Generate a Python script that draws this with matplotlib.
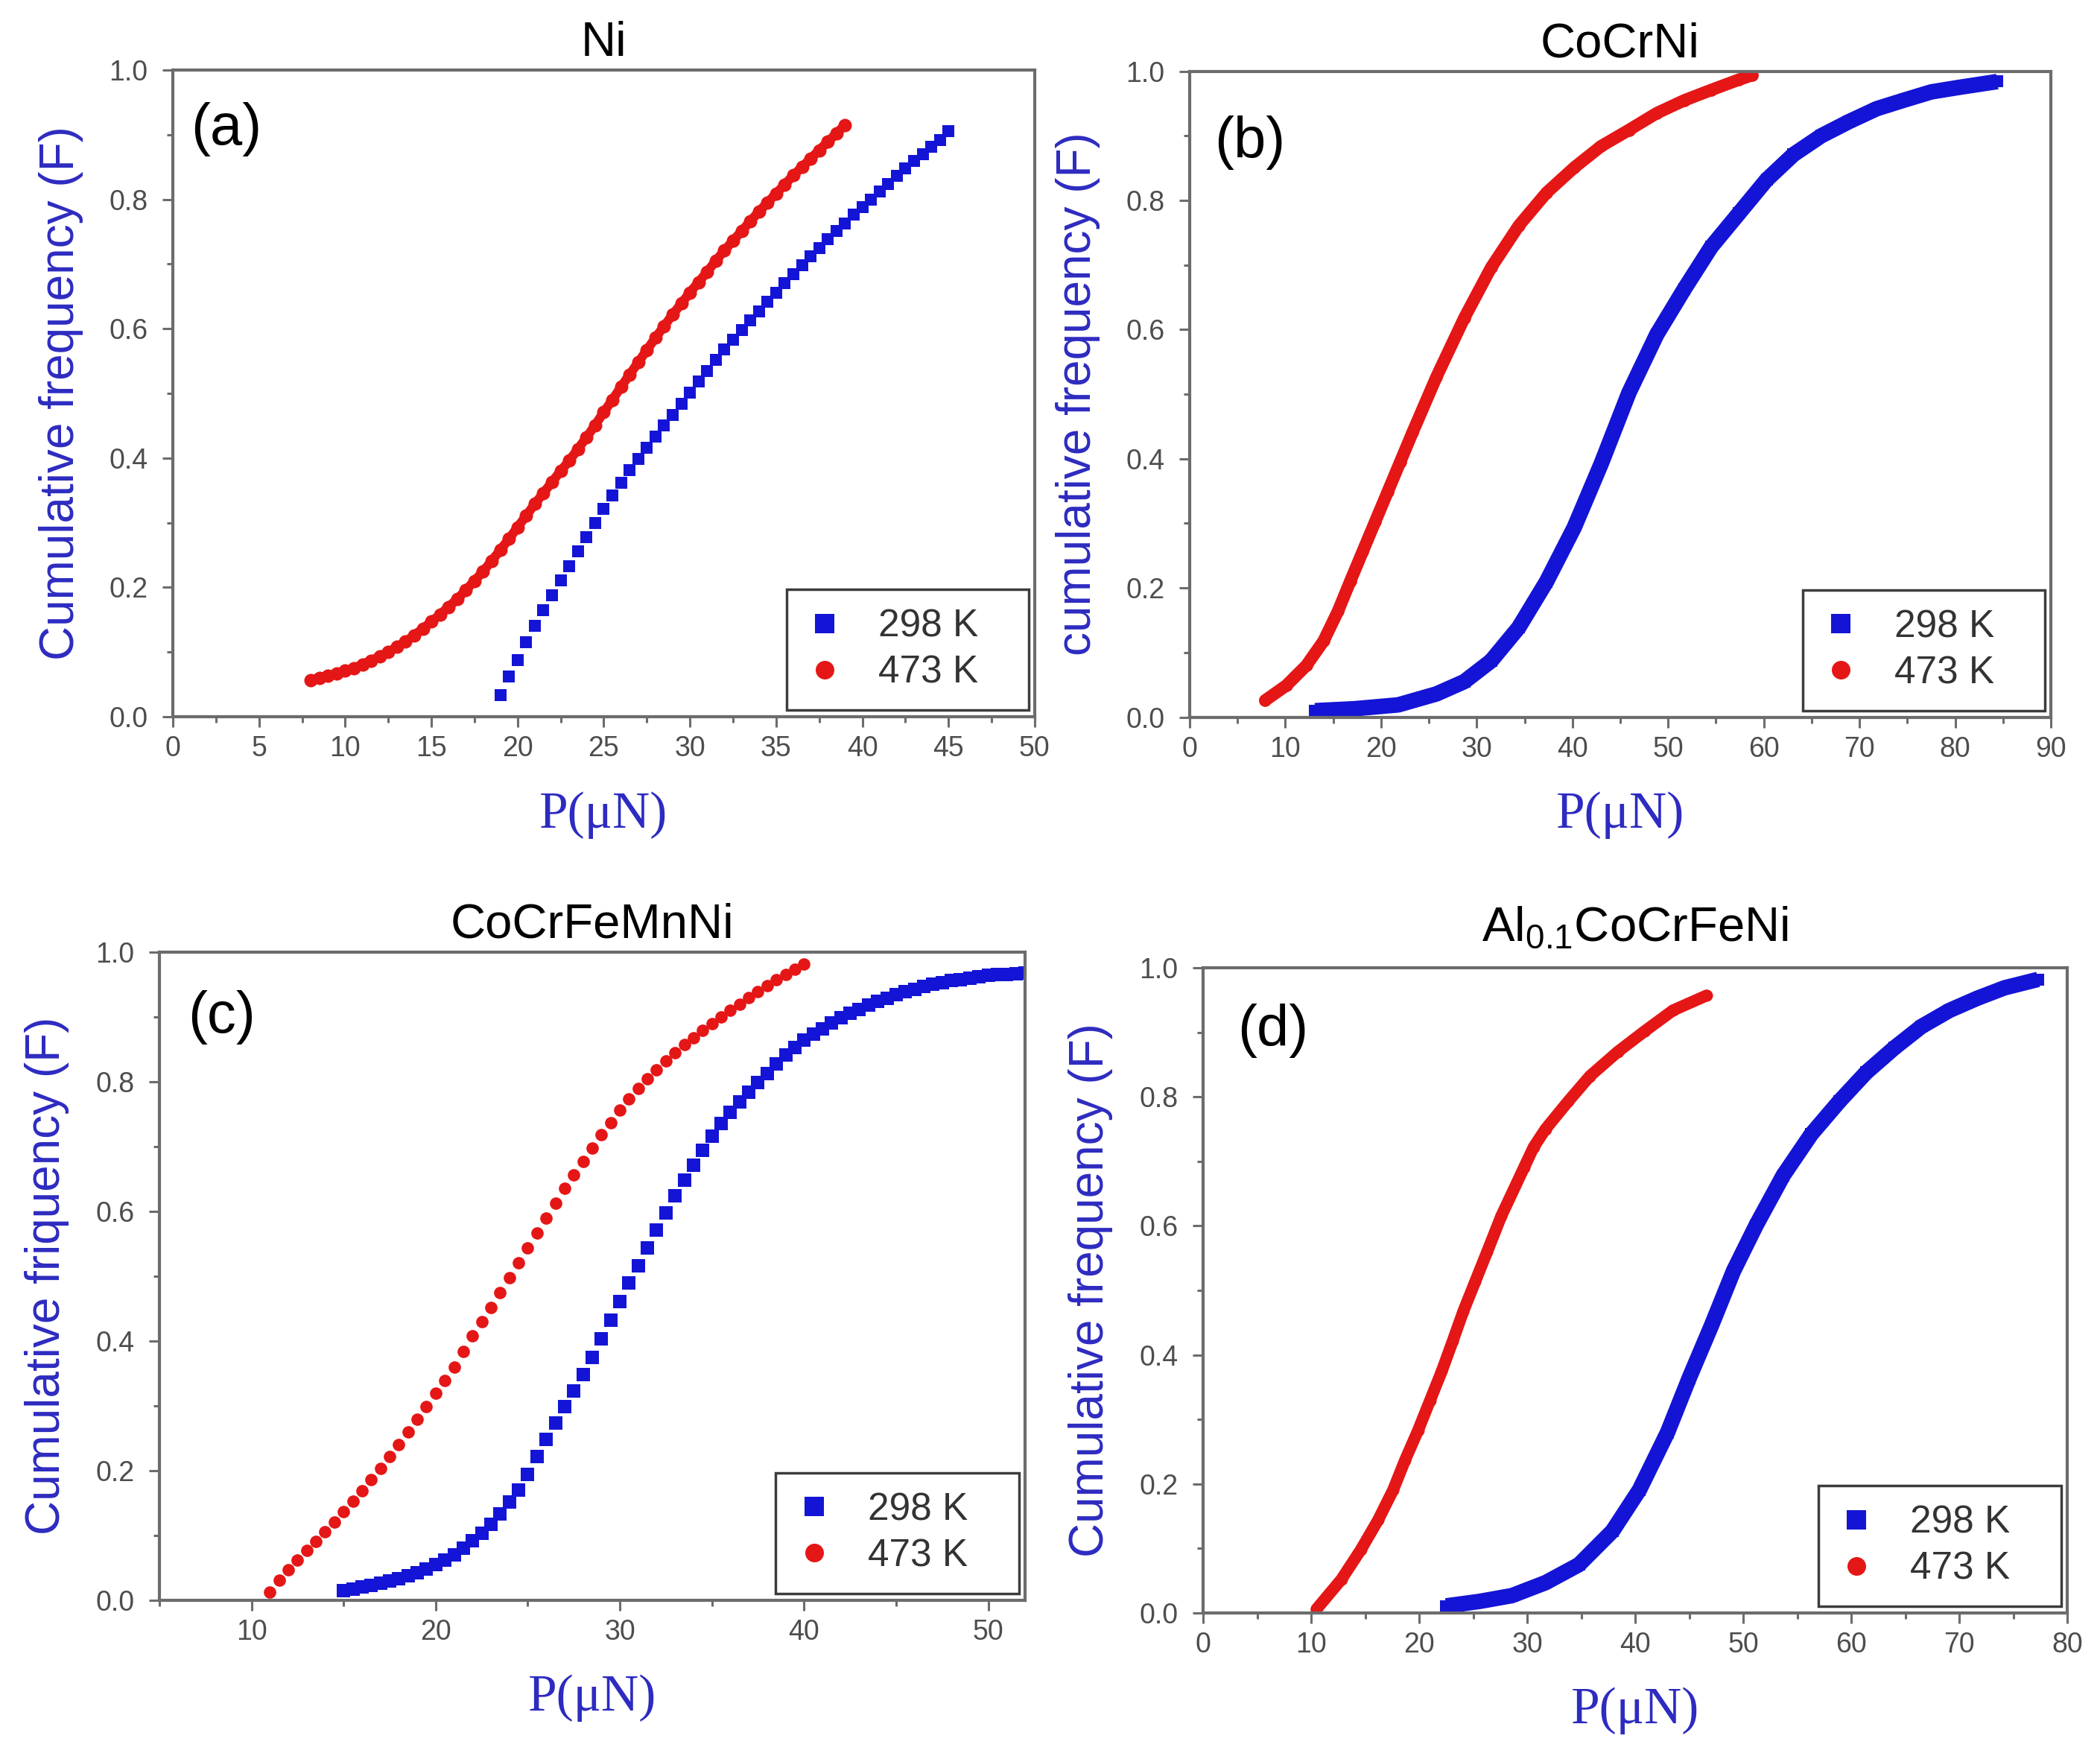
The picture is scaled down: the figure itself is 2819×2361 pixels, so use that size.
import matplotlib
matplotlib.use('Agg')
import matplotlib.pyplot as plt
from matplotlib.lines import Line2D
from matplotlib.ticker import MultipleLocator, FormatStrFormatter

plt.rcParams['font.family'] = ['Liberation Sans', 'DejaVu Sans']

# ---------------- data ----------------
# (a) Ni
a_298_x = [19.0, 19.5, 20.0, 20.5, 21.0, 21.5, 22.0, 22.5, 23.0, 23.5,
           24.0, 24.5, 25.0, 25.5, 26.0, 26.5, 27.0, 27.5, 28.0, 28.5,
           29.0, 29.5, 30.0, 30.5, 31.0, 31.5, 32.0, 32.5, 33.0, 33.5,
           34.0, 34.5, 35.0, 35.5, 36.0, 36.5, 37.0, 37.5, 38.0, 38.5,
           39.0, 39.5, 40.0, 40.5, 41.0, 41.5, 42.0, 42.5, 43.0, 43.5,
           44.0, 44.5, 45.0]
a_298_y = [0.034, 0.062, 0.088, 0.115, 0.141, 0.165, 0.188, 0.211, 0.233, 0.256,
           0.278, 0.300, 0.322, 0.342, 0.362, 0.381, 0.399, 0.416, 0.433, 0.450,
           0.467, 0.484, 0.501, 0.518, 0.535, 0.552, 0.568, 0.583, 0.598, 0.613,
           0.627, 0.642, 0.656, 0.670, 0.684, 0.698, 0.712, 0.725, 0.738, 0.751,
           0.763, 0.776, 0.788, 0.800, 0.812, 0.824, 0.836, 0.848, 0.859, 0.870,
           0.881, 0.892, 0.905]
a_473_x = [8.0, 8.5, 9.0, 9.5, 10.0, 10.5, 11.0, 11.5, 12.0, 12.5,
           13.0, 13.5, 14.0, 14.5, 15.0, 15.5, 16.0, 16.5, 17.0, 17.5,
           18.0, 18.5, 19.0, 19.5, 20.0, 20.5, 21.0, 21.5, 22.0, 22.5,
           23.0, 23.5, 24.0, 24.5, 25.0, 25.5, 26.0, 26.5, 27.0, 27.5,
           28.0, 28.5, 29.0, 29.5, 30.0, 30.5, 31.0, 31.5, 32.0, 32.5,
           33.0, 33.5, 34.0, 34.5, 35.0, 35.5, 36.0, 36.5, 37.0, 37.5,
           38.0, 38.5, 39.0]
a_473_y = [0.057, 0.060, 0.063, 0.067, 0.071, 0.075, 0.081, 0.087, 0.093, 0.100,
           0.108, 0.116, 0.126, 0.136, 0.147, 0.158, 0.170, 0.182, 0.196, 0.210,
           0.225, 0.241, 0.258, 0.275, 0.293, 0.311, 0.329, 0.346, 0.363, 0.380,
           0.396, 0.414, 0.432, 0.451, 0.471, 0.490, 0.510, 0.529, 0.548, 0.567,
           0.586, 0.604, 0.622, 0.639, 0.656, 0.672, 0.688, 0.705, 0.721, 0.736,
           0.751, 0.766, 0.781, 0.795, 0.809, 0.823, 0.837, 0.850, 0.863, 0.876,
           0.889, 0.902, 0.915]

# (b) CoCrNi
b_298_x = [13.1, 17.2, 21.8, 25.8, 28.7, 31.5, 34.4, 37.3, 40.2, 43.0, 45.9, 48.8,
           51.7, 54.5, 57.4, 60.3, 63.1, 66.0, 68.9, 71.8, 74.6, 77.5, 80.4, 84.4]
b_298_y = [0.010, 0.013, 0.019, 0.036, 0.055, 0.087, 0.139, 0.210, 0.294, 0.392, 0.502, 0.592,
           0.663, 0.728, 0.780, 0.832, 0.871, 0.900, 0.922, 0.942, 0.955, 0.968, 0.975, 0.984]
b_473_x = [7.9, 10.1, 12.2, 14.0, 15.5, 16.8, 18.1, 19.4, 20.7, 22.0, 23.3, 25.8,
           28.7, 31.5, 34.4, 37.3, 40.2, 43.0, 45.9, 48.8, 51.7, 54.5, 57.4, 58.8]
b_473_y = [0.026, 0.049, 0.080, 0.118, 0.164, 0.211, 0.257, 0.303, 0.349, 0.395, 0.441, 0.527,
           0.618, 0.696, 0.761, 0.812, 0.851, 0.884, 0.909, 0.935, 0.955, 0.971, 0.987, 0.994]

# (c) CoCrFeMnNi
c_298_x = [15.0, 15.5, 16.0, 16.5, 17.0, 17.5, 18.0, 18.5, 19.0, 19.5,
           20.0, 20.5, 21.0, 21.5, 22.0, 22.5, 23.0, 23.5, 24.0, 24.5,
           25.0, 25.5, 26.0, 26.5, 27.0, 27.5, 28.0, 28.5, 29.0, 29.5,
           30.0, 30.5, 31.0, 31.5, 32.0, 32.5, 33.0, 33.5, 34.0, 34.5,
           35.0, 35.5, 36.0, 36.5, 37.0, 37.5, 38.0, 38.5, 39.0, 39.5,
           40.0, 40.5, 41.0, 41.5, 42.0, 42.5, 43.0, 43.5, 44.0, 44.5,
           45.0, 45.5, 46.0, 46.5, 47.0, 47.5, 48.0, 48.5, 49.0, 49.5,
           50.0, 50.5, 51.0, 51.5, 52.0]
c_298_y = [0.015, 0.017, 0.020, 0.022, 0.026, 0.029, 0.033, 0.037, 0.042, 0.048,
           0.055, 0.062, 0.070, 0.080, 0.091, 0.103, 0.117, 0.133, 0.151, 0.170,
           0.194, 0.221, 0.248, 0.273, 0.298, 0.323, 0.348, 0.374, 0.403, 0.432,
           0.461, 0.489, 0.516, 0.544, 0.571, 0.597, 0.624, 0.648, 0.671, 0.694,
           0.716, 0.736, 0.753, 0.769, 0.784, 0.799, 0.813, 0.828, 0.841, 0.853,
           0.864, 0.873, 0.882, 0.891, 0.899, 0.906, 0.912, 0.918, 0.924, 0.929,
           0.934, 0.939, 0.943, 0.947, 0.950, 0.953, 0.956, 0.958, 0.960, 0.962,
           0.964, 0.965, 0.966, 0.967, 0.968]
c_473_x = [11.0, 11.5, 12.0, 12.5, 13.0, 13.5, 14.0, 14.5, 15.0, 15.5,
           16.0, 16.5, 17.0, 17.5, 18.0, 18.5, 19.0, 19.5, 20.0, 20.5,
           21.0, 21.5, 22.0, 22.5, 23.0, 23.5, 24.0, 24.5, 25.0, 25.5,
           26.0, 26.5, 27.0, 27.5, 28.0, 28.5, 29.0, 29.5, 30.0, 30.5,
           31.0, 31.5, 32.0, 32.5, 33.0, 33.5, 34.0, 34.5, 35.0, 35.5,
           36.0, 36.5, 37.0, 37.5, 38.0, 38.5, 39.0, 39.5, 40.0]
c_473_y = [0.012, 0.030, 0.047, 0.062, 0.076, 0.090, 0.105, 0.120, 0.136, 0.152,
           0.169, 0.186, 0.203, 0.221, 0.240, 0.259, 0.279, 0.299, 0.319, 0.339,
           0.360, 0.384, 0.408, 0.430, 0.452, 0.474, 0.497, 0.520, 0.543, 0.566,
           0.590, 0.613, 0.635, 0.656, 0.677, 0.698, 0.718, 0.737, 0.756, 0.773,
           0.789, 0.804, 0.818, 0.832, 0.845, 0.857, 0.868, 0.879, 0.890, 0.900,
           0.910, 0.920, 0.930, 0.939, 0.948, 0.957, 0.965, 0.973, 0.982]

# (d) Al0.1CoCrFeNi
d_298_x = [22.5, 25.6, 28.6, 31.7, 34.8, 37.9, 40.4, 43.0, 45.0, 47.1, 49.1,
           51.2, 53.7, 56.3, 58.9, 61.4, 64.0, 66.5, 69.1, 71.7, 74.2, 77.3]
d_298_y = [0.011, 0.018, 0.027, 0.047, 0.075, 0.127, 0.191, 0.280, 0.364, 0.447, 0.530,
           0.601, 0.678, 0.742, 0.793, 0.838, 0.876, 0.909, 0.934, 0.953, 0.969, 0.982]
d_473_x = [10.5, 12.8, 14.6, 16.2, 17.6, 18.7, 19.9, 21.0, 22.1, 23.1, 24.1, 25.2,
           26.3, 27.6, 29.7, 30.6, 31.7, 33.8, 35.8, 38.4, 40.9, 43.5, 46.6]
d_473_y = [0.006, 0.052, 0.098, 0.144, 0.191, 0.237, 0.283, 0.329, 0.375, 0.421, 0.468, 0.514,
           0.560, 0.615, 0.690, 0.722, 0.750, 0.793, 0.832, 0.870, 0.902, 0.934, 0.957]

titles = ['Ni', 'CoCrNi', 'CoCrFeMnNi', r'Al$_{\mathregular{0.1}}$CoCrFeNi']
letters = ['(a)', '(b)', '(c)', '(d)']
ylabels = ['Cumulative frequency (F)', 'cumulative frequency (F)',
           'Cumulative friquency (F)', 'Cumulative frequency (F)']
legend_labels = ['298 K', '473 K']

BLUE = '#1414d6'
RED = '#e51616'
LABEL_BLUE = '#2d2bc0'
FRAME = '#6c6c6c'
TICK_TXT = '#4d4d4d'

fig = plt.figure(figsize=(28.19, 23.61), dpi=100)

rects = [[0.0823, 0.5925, 0.4104, 0.3677],
         [0.5665, 0.5923, 0.4101, 0.3672],
         [0.0759, 0.0904, 0.4122, 0.3683],
         [0.5729, 0.0830, 0.4115, 0.3668]]
xlims = [(0, 50), (0, 90), (5, 52), (0, 80)]
xmajor = [5, 10, 10, 10]
xminor = [2.5, 5, 5, 5]
title_pads = [14, 14, 14, 26]
letter_pos = [(0.021, 0.908), (0.029, 0.889), (0.033, 0.899), (0.040, 0.903)]

axes = [fig.add_axes(r) for r in rects]
ax_a, ax_b, ax_c, ax_d = axes

# (a) distinct markers, red chain slightly joined
ax_a.plot(a_298_x, a_298_y, ls='none', marker='s', ms=12, mew=0, color=BLUE)
ax_a.plot(a_473_x, a_473_y, ls='-', lw=9, marker='o', ms=13, mew=0, color=RED,
          solid_capstyle='round')

# (b) dense data -> continuous thick bands
ax_b.plot(b_298_x, b_298_y, ls='-', lw=15, marker='s', ms=12, mew=0, color=BLUE,
          solid_joinstyle='round', solid_capstyle='butt')
ax_b.plot(b_473_x, b_473_y, ls='-', lw=12, marker='o', ms=12, mew=0, color=RED,
          solid_joinstyle='round', solid_capstyle='round')

# (c) distinct markers
ax_c.plot(c_298_x, c_298_y, ls='none', marker='s', ms=13, mew=0, color=BLUE)
ax_c.plot(c_473_x, c_473_y, ls='none', marker='o', ms=12, mew=0, color=RED)

# (d) dense data -> continuous thick bands
ax_d.plot(d_298_x, d_298_y, ls='-', lw=15, marker='s', ms=12, mew=0, color=BLUE,
          solid_joinstyle='round', solid_capstyle='butt')
ax_d.plot(d_473_x, d_473_y, ls='-', lw=11.5, marker='o', ms=11.5, mew=0, color=RED,
          solid_joinstyle='round', solid_capstyle='round')

for i, ax in enumerate(axes):
    ax.set_xlim(*xlims[i])
    ax.set_ylim(0, 1.0)
    ax.xaxis.set_major_locator(MultipleLocator(xmajor[i]))
    ax.xaxis.set_minor_locator(MultipleLocator(xminor[i]))
    ax.yaxis.set_major_locator(MultipleLocator(0.2))
    ax.yaxis.set_minor_locator(MultipleLocator(0.1))
    ax.yaxis.set_major_formatter(FormatStrFormatter('%.1f'))
    ax.xaxis.set_major_formatter(FormatStrFormatter('%d'))

    for sp in ax.spines.values():
        sp.set_color(FRAME)
        sp.set_linewidth(3)

    ax.tick_params(which='major', direction='out', length=10, width=2.2,
                   color=FRAME, labelsize=27, labelcolor=TICK_TXT)
    ax.tick_params(which='minor', direction='out', length=6, width=2.2, color=FRAME)
    ax.tick_params(axis='x', which='major', pad=8)
    ax.tick_params(axis='y', which='major', pad=14)
    ax.tick_params(top=False, right=False, which='both')

    ax.set_title(titles[i], fontsize=47, pad=title_pads[i])
    ax.set_ylabel(ylabels[i], fontsize=46, color=LABEL_BLUE)
    ax.yaxis.set_label_coords(-0.104, 0.5)
    ax.set_xlabel('P(μN)', fontsize=50, color=LABEL_BLUE,
                  family=['Liberation Serif', 'DejaVu Serif'])
    ax.xaxis.set_label_coords(0.5, -0.115)

    ax.text(letter_pos[i][0], letter_pos[i][1], letters[i], transform=ax.transAxes,
            fontsize=56, ha='left', va='center')

    handles = [Line2D([], [], ls='none', marker='s', ms=19, mew=0, color=BLUE),
               Line2D([], [], ls='none', marker='o', ms=18, mew=0, color=RED)]
    leg = ax.legend(handles, legend_labels, loc='lower left',
                    bbox_to_anchor=(0.712, 0.01, 0.281, 0.2), mode='expand',
                    fontsize=37, frameon=True, fancybox=False, edgecolor='#3c3c3c',
                    framealpha=1, borderpad=0.5, handlelength=1.0, handletextpad=0.9,
                    labelspacing=0.25, borderaxespad=0)
    leg.get_frame().set_linewidth(2.5)
    for t in leg.get_texts():
        t.set_color('#333333')

    plt.setp(ax.get_xticklabels() + ax.get_yticklabels(),
             family=['Liberation Sans Narrow', 'Liberation Sans'])

fig.savefig('out.png', dpi=100)
